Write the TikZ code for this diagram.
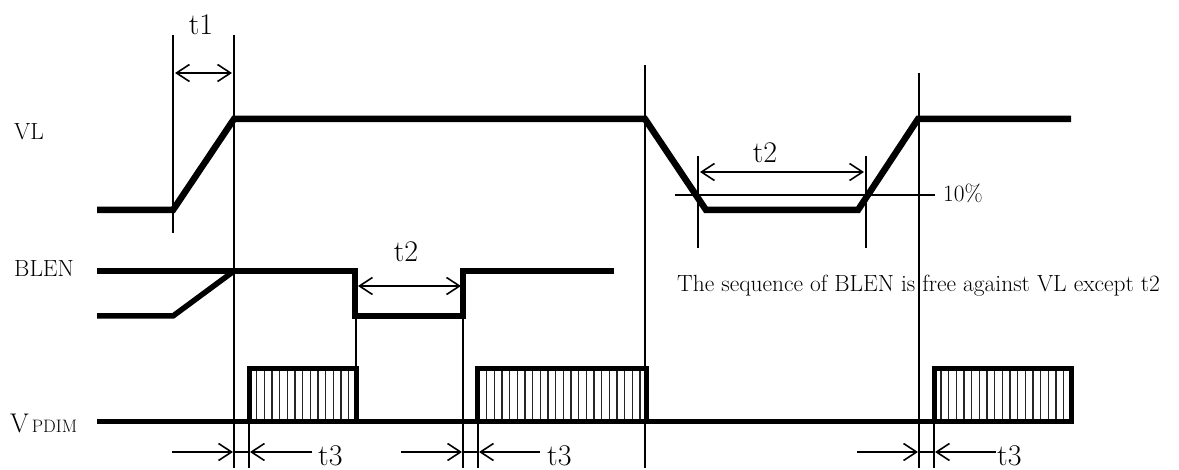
\documentclass[tikz,border=0pt]{standalone}
\usetikzlibrary{arrows.meta}
\tikzset{
  sig/.style={line width=5.5pt,line join=miter,line cap=butt},
  vlsig/.style={line width=6.5pt,line join=miter,line cap=butt},
  box/.style={line width=5pt,line join=miter},
  guide/.style={line width=1.2pt},
  hatchline/.style={line width=1.3pt,black!85},
  dim/.style={line width=1.4pt,{Straight Barb[length=13pt,width=17pt,line width=1.6pt]}-{Straight Barb[length=13pt,width=17pt,line width=1.6pt]}},
  dimr/.style={line width=1.4pt,-{Straight Barb[length=13pt,width=17pt,line width=1.6pt]}},
  big/.style={inner sep=0pt,font=\fontsize{30}{30}\selectfont},
  lab/.style={inner sep=0pt,anchor=base west,font=\fontsize{23.4}{24}\selectfont}
}
\begin{document}
\begin{tikzpicture}[x=1pt,y=-1pt]
\useasboundingbox (0,0) rectangle (1179,470);
\clip (0,0) rectangle (1179,470);
% guides
\draw[guide] (173,35) -- (173,233);
\draw[guide] (234,35) -- (234,468);
\draw[guide] (645,65) -- (645,468);
\draw[guide] (919,73) -- (919,468);
\draw[guide] (698,156) -- (698,248);
\draw[guide] (866,156) -- (866,248);
\draw[guide] (675,195) -- (935,195);
\draw[guide] (356,316) -- (356,368);
\draw[guide] (463,316) -- (463,468);
\draw[guide] (249,422) -- (249,468);
\draw[guide] (478,422) -- (478,468);
\draw[guide] (934,422) -- (934,468);
% VL
\draw[vlsig] (97,210) -- (173,210) -- (234,119) -- (645,119) -- (706,210) -- (858,210) -- (918,119) -- (1071,119);
% BLEN
\draw[sig] (97,271) -- (355,271) -- (355,316) -- (463,316) -- (463,271) -- (614,271);
\draw[sig] (97,316) -- (173,316) -- (234,271);
% V PDIM
\draw[box] (97,422) -- (934,422);
\foreach \s/\n in {256.7/12,486.7/20,941/16}{
  \foreach \k in {0,...,\n}{
    \draw[hatchline] ({\s+7.67*\k},369) -- ({\s+7.67*\k},422);
  }
}
\draw[box] (249,422) -- (249,369) -- (356,369) -- (356,422) -- cycle;
\draw[box] (477,422) -- (477,369) -- (646,369) -- (646,422) -- cycle;
\draw[box] (934,422) -- (934,369) -- (1071,369) -- (1071,422) -- cycle;
% dimensions
\draw[dim] (175,73) -- (232,73);
\draw[dim] (358,286) -- (461,286);
\draw[dim] (700,172) -- (864,172);
\draw[dimr] (172,452) -- (233,452);
\draw[dimr] (312,452) -- (250,452);
\draw[dimr] (401,452) -- (462,452);
\draw[dimr] (540,452) -- (479,452);
\draw[dimr] (857,452) -- (918,452);
\draw[dimr] (996,452) -- (935,452);
\draw[guide] (234,452) -- (249,452);
\draw[guide] (463,452) -- (478,452);
\draw[guide] (919,452) -- (934,452);
% text
\node[big] (tone) at (201,25) {t1};
\node[big] (ttwoa) at (406,252) {t2};
\node[big] (ttwob) at (765,153) {t2};
\node[big,anchor=base west] (tthreea) at (318,465) {t3};
\node[big,anchor=base west] (tthreeb) at (547,465) {t3};
\node[big,anchor=base west] (tthreec) at (997,465) {t3};
\node[lab] (vl) at (14,140) {VL};
\node[lab] (blen) at (14,277) {BLEN};
\node[lab] (vpdim) at (10,432) {\fontsize{27}{27}\selectfont V\hspace{3pt}{\fontsize{18}{18}\selectfont PDIM}};
\node[lab] (pct) at (943,202) {10\%};
\node[lab] (note) at (677,292) {The sequence of BLEN is free against VL except t2};
\end{tikzpicture}
\end{document}
